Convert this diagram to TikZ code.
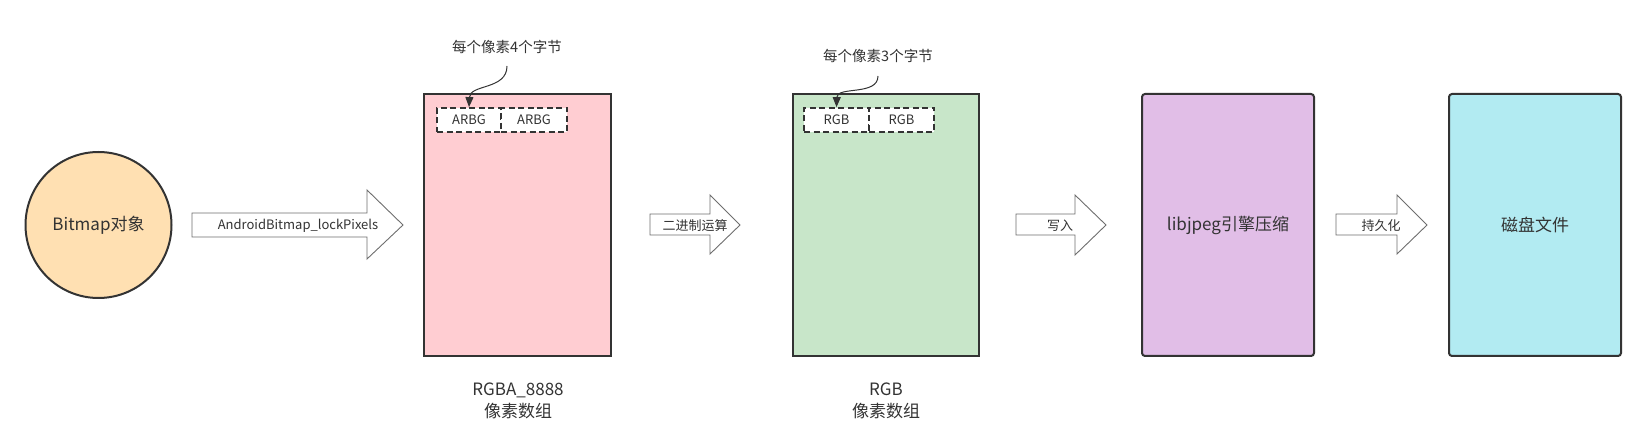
\documentclass[tikz,border=0pt]{standalone}
\usepackage{fontspec}
\setmainfont{Noto Sans CJK SC}
\usetikzlibrary{arrows.meta}
\definecolor{ln}{HTML}{333333}
\definecolor{txt}{HTML}{333333}
\definecolor{agray}{HTML}{6E6E6E}
\definecolor{orangec}{HTML}{FFE0B2}
\definecolor{pinkc}{HTML}{FFCDD2}
\definecolor{greenc}{HTML}{C8E6C9}
\definecolor{purplec}{HTML}{E1BEE7}
\definecolor{cyanc}{HTML}{B2EBF2}
\tikzset{
  mainbox/.style={draw=ln, line width=2pt, inner sep=0pt, text=txt, font=\fontsize{17}{22}\selectfont},
  cellbox/.style={draw=ln, fill=white, line width=1.8pt, dash pattern=on 6pt off 3.5pt, minimum height=24pt, inner sep=0pt, text=txt, font=\fontsize{13}{16}\selectfont},
  blockarrow/.style={draw=agray, fill=white, line width=0.9pt, line join=miter},
  arrowlabel/.style={text=txt, font=\fontsize{13}{16}\selectfont, inner sep=0pt},
  notelabel/.style={text=txt, font=\fontsize{14.5}{18}\selectfont, inner sep=0pt},
  biglabel/.style={text=txt, font=\fontsize{17}{22}\selectfont, align=center, inner sep=0pt},
  pointer/.style={draw=ln, line width=1pt, -{Triangle[length=10pt,width=8pt]}}
}
\begin{document}
\begin{tikzpicture}[x=1pt,y=-1pt]
\useasboundingbox (0,0) rectangle (1646,443);

% Bitmap circle
\node[mainbox, circle, fill=orangec, minimum size=146pt] (bmp) at (98.5,225) {Bitmap对象};

% block arrow 1
\draw[blockarrow] (192,213) -- (367,213) -- (367,190) -- (403,225) -- (367,259) -- (367,237) -- (192,237) -- cycle;
\node[arrowlabel] (a1) at (298,226) {AndroidBitmap\_lockPixels};

% pink box
\node[mainbox, rectangle, fill=pinkc, minimum width=187pt, minimum height=262pt] (pink) at (517.5,225) {};
\node[cellbox, minimum width=64pt] (ab1) at (469,120) {ARBG};
\node[cellbox, minimum width=66pt] (ab2) at (534,120) {ARBG};
\node[notelabel] (n1) at (507,47) {每个像素4个字节};
\coordinate (c1) at (507,66);
\draw[pointer] (c1) .. controls (507,90) and (470,84) .. (ab1.north);
\node[biglabel] (l1) at (518,401) {RGBA\_8888\\像素数组};

% block arrow 2
\draw[blockarrow] (650,214) -- (710,214) -- (710,195) -- (740,225) -- (710,254) -- (710,235) -- (650,235) -- cycle;
\node[arrowlabel] (a2) at (695,226) {二进制运算};

% green box
\node[mainbox, rectangle, fill=greenc, minimum width=186pt, minimum height=262pt] (green) at (886,225) {};
\node[cellbox, minimum width=65pt] (rg1) at (836.5,120) {RGB};
\node[cellbox, minimum width=65pt] (rg2) at (901.5,120) {RGB};
\node[notelabel] (n2) at (878,56) {每个像素3个字节};
\coordinate (c2) at (878,76);
\draw[pointer] (c2) .. controls (878,96) and (837,86) .. (rg1.north);
\node[biglabel] (l2) at (886,401) {RGB\\像素数组};

% block arrow 3
\draw[blockarrow] (1016,214) -- (1075,214) -- (1075,195) -- (1106,225) -- (1075,255) -- (1075,235) -- (1016,235) -- cycle;
\node[arrowlabel] (a3) at (1060,226) {写入};

% purple box
\node[mainbox, rectangle, rounded corners=3pt, fill=purplec, minimum width=172pt, minimum height=262pt] (jpeg) at (1228,225) {libjpeg引擎压缩};

% block arrow 4
\draw[blockarrow] (1336,214) -- (1397,214) -- (1397,195) -- (1427,225) -- (1397,254) -- (1397,235) -- (1336,235) -- cycle;
\node[arrowlabel] (a4) at (1381,226) {持久化};

% cyan box
\node[mainbox, rectangle, rounded corners=3pt, fill=cyanc, minimum width=172pt, minimum height=262pt] (disk) at (1535,225) {磁盘文件};
\end{tikzpicture}
\end{document}
